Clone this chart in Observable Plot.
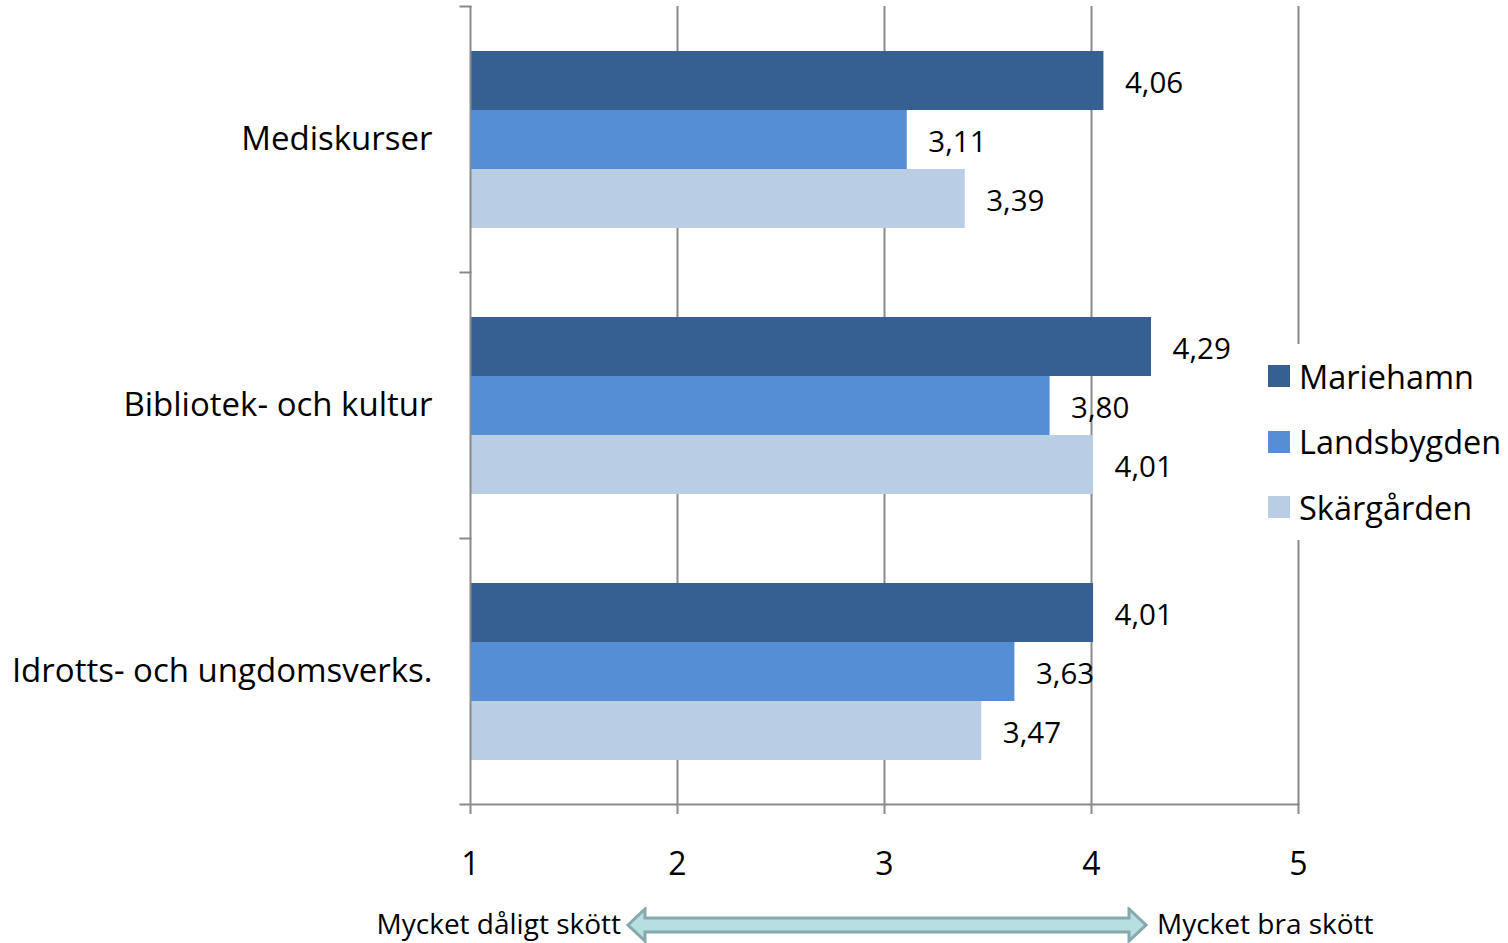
<!DOCTYPE html>
<html><head><meta charset="utf-8">
<script src="https://cdn.jsdelivr.net/npm/d3@7"></script>
<script src="https://cdn.jsdelivr.net/npm/@observablehq/plot@0.6"></script>
<style>
body{margin:0;background:#fff;font-family:"Open Sans",sans-serif;}
#wrap{position:relative;width:1508px;height:943px;overflow:hidden;}
#legend{position:absolute;left:1260px;top:344px;width:248px;height:196px;background:#fff;}
.item{position:absolute;left:8px;height:40px;display:flex;align-items:center;font-size:32.5px;color:#000;white-space:nowrap;}
.sw{width:22px;height:22px;margin-right:9px;flex:none;}
#note{position:absolute;left:0;top:900px;width:1508px;height:43px;font-size:28px;color:#000;}
#note span{position:absolute;top:4px;white-space:nowrap;}
#arrow{position:absolute;left:626px;top:907px;}
</style></head><body><div id="wrap"></div>
<script>
const categories = ["Mediskurser", "Bibliotek- och kultur", "Idrotts- och ungdomsverks."];
const seriesNames = ["Mariehamn", "Landsbygden", "Skärgården"];
const mariehamn = [4.06, 4.29, 4.01];
const landsbygden = [3.11, 3.80, 3.63];
const skargarden = [3.39, 4.01, 3.47];
const colors = ["#376092", "#558ED5", "#B9CDE5"];
const xTicks = [1, 2, 3, 4, 5];
const leftLabel = "Mycket dåligt skött";
const rightLabel = "Mycket bra skött";

const seriesValues = [mariehamn, landsbygden, skargarden];
const data = categories.flatMap((c, i) => seriesNames.map((s, j) => ({category: c, series: s, value: seriesValues[j][i]})));
const fmt = v => v.toFixed(2).replace(".", ",");
const grey = "#8a8a8a";
const tickLen = 10;

function extendLeft(onlyTick) {
  return (I, s, v, dims, ctx, next) => {
    const el = next(I, s, v, dims, ctx);
    const line = el.tagName === "line" ? el : el.querySelector("line");
    if (line) {
      const x1 = +line.getAttribute("x1");
      line.setAttribute("x1", x1 - tickLen);
      if (onlyTick) line.setAttribute("x2", x1);
    }
    return el;
  };
}

const plot = Plot.plot({
  width: 1508, height: 890,
  marginTop: 6, marginBottom: 86, marginLeft: 470, marginRight: 210,
  style: {fontFamily: "Open Sans", background: "white", color: "black"},
  x: {domain: [xTicks[0], xTicks[xTicks.length - 1]], axis: null},
  y: {domain: seriesNames, axis: null, paddingInner: 0, paddingOuter: 0.74},
  fy: {domain: categories, axis: null, padding: 0},
  color: {domain: seriesNames, range: colors},
  marks: [
    Plot.ruleX(xTicks.slice(1), {stroke: grey, strokeWidth: 2}),
    Plot.barX(data, {fy: "category", y: "series", x1: xTicks[0], x2: "value", fill: "series"}),
    Plot.ruleX([xTicks[0]], {stroke: grey, strokeWidth: 2}),
    Plot.frame({anchor: "top", stroke: grey, strokeWidth: 2, render: extendLeft(true)}),
    Plot.frame({anchor: "bottom", facetAnchor: "bottom", stroke: grey, strokeWidth: 2, render: extendLeft(false)}),
    Plot.axisX(xTicks, {tickSize: tickLen, tickPadding: 38, stroke: grey, strokeWidth: 2, fill: "black", fontSize: 32, label: null, tickFormat: d => String(d)}),
    Plot.axisFy({anchor: "left", tickSize: 0, tickPadding: 38, fontSize: 33, label: null, fill: "black"}),
    Plot.text(data, {fy: "category", y: "series", x: "value", text: d => fmt(d.value), textAnchor: "start", dx: 21, dy: 3, fontSize: 29.5, fill: "black"})
  ]
});
const wrap = document.getElementById("wrap");
wrap.appendChild(plot);

const legend = document.createElement("div");
legend.id = "legend";
seriesNames.forEach((s, i) => {
  const it = document.createElement("div");
  it.className = "item";
  it.style.top = (12 + i * 65.5) + "px";
  const sw = document.createElement("div");
  sw.className = "sw";
  sw.style.background = colors[i];
  it.appendChild(sw);
  it.appendChild(document.createTextNode(s));
  legend.appendChild(it);
});
wrap.appendChild(legend);

const note = document.createElement("div");
note.id = "note";
note.innerHTML = `<span style="right:${1508 - 621}px">${leftLabel}</span><span style="left:1157px">${rightLabel}</span>`;
wrap.appendChild(note);
const arrow = document.createElementNS("http://www.w3.org/2000/svg", "svg");
arrow.id = "arrow";
arrow.setAttribute("width", 522);
arrow.setAttribute("height", 36);
arrow.innerHTML = `<path d="M2,18 L19,2 L19,11 L503,11 L503,2 L520,18 L503,34 L503,25 L19,25 L19,34 Z" fill="#B7DEE1" stroke="#86A9AC" stroke-width="3" stroke-linejoin="miter"/>`;
wrap.appendChild(arrow);
</script>
</body></html>
